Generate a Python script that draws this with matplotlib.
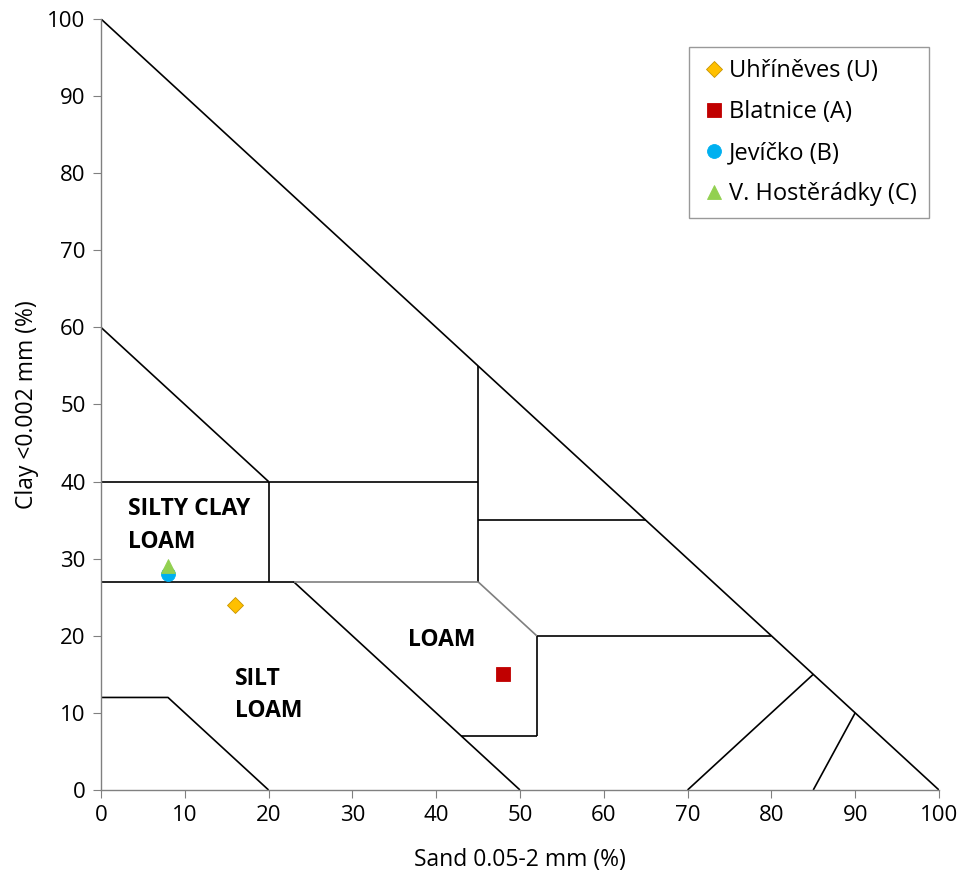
import matplotlib
matplotlib.use('Agg')
import matplotlib.pyplot as plt

# ── Data ──────────────────────────────────────────────────────────────────
site_names = ["Uhříněves (U)", "Blatnice (A)", "Jevíčko (B)", "V. Hostěrádky (C)"]
site_sand  = [16, 48, 8, 8]
site_clay  = [24, 15, 28, 29]
site_marker = ["D", "s", "o", "^"]
site_color  = ["#FFC000", "#C00000", "#00B0F0", "#92D050"]

# texture class boundaries: (sand list, clay list)
black_lines = [
    ([0, 100], [100, 0]),
    ([0, 20], [60, 40]),
    ([0, 45], [40, 40]),
    ([20, 20], [40, 27]),
    ([45, 45], [55, 40]),
    ([45, 45], [40, 27]),
    ([45, 65], [35, 35]),
    ([0, 23], [27, 27]),
    ([23, 50], [27, 0]),
    ([52, 80], [20, 20]),
    ([52, 52], [20, 7]),
    ([52, 43], [7, 7]),
    ([0, 8, 20], [12, 12, 0]),
    ([70, 85], [0, 15]),
    ([85, 90], [0, 10]),
]
gray_lines = [
    ([23, 45], [27, 27]),
    ([45, 52], [27, 20]),
]

class_labels = [("SILTY CLAY\nLOAM", 3.2, 34.3), ("LOAM", 36.6, 19.4), ("SILT\nLOAM", 16.0, 12.3)]

x_ticks = list(range(0, 101, 10))
y_ticks = list(range(0, 101, 10))

# ── Style ─────────────────────────────────────────────────────────────────
plt.rcParams.update({
    "font.family": ["Open Sans", "DejaVu Sans"],
    "font.size": 16,
})

fig = plt.figure(figsize=(9.68, 8.73), dpi=100)
ax = fig.add_axes([0.1043, 0.0951, 0.8657, 0.8832])

for xs, ys in black_lines:
    ax.plot(xs, ys, color="black", lw=1.2, solid_capstyle="butt", zorder=2)
for xs, ys in gray_lines:
    ax.plot(xs, ys, color="#7f7f7f", lw=1.2, solid_capstyle="butt", zorder=2)

for name, sx, cy, m, c in zip(site_names, site_sand, site_clay, site_marker, site_color):
    ms = 8 if m == "D" else 10
    ax.plot(sx, cy, ls="none", marker=m, ms=ms, color=c,
            mec="#c79400" if m == "D" else c, mew=0.6, label=name, zorder=4)

for txt, x, y in class_labels:
    ax.text(x, y, txt, fontsize=16.5, fontweight="bold", ha="left", va="center",
            linespacing=1.45, zorder=3)

ax.set_xlim(0, 100)
ax.set_ylim(0, 100)
ax.set_xticks(x_ticks)
ax.set_yticks(y_ticks)
for s in ["top", "right"]:
    ax.spines[s].set_visible(False)
for s in ["left", "bottom"]:
    ax.spines[s].set_color("#808080")
    ax.spines[s].set_linewidth(1.0)
ax.tick_params(direction="out", length=6, color="#808080", labelsize=16, pad=5)

ax.set_xlabel("Sand 0.05-2 mm (%)", fontsize=16.5, labelpad=16)
ax.set_ylabel("Clay <0.002 mm (%)", fontsize=16.5, labelpad=6)

leg = ax.legend(loc="upper right", bbox_to_anchor=(0.988, 0.963), frameon=True,
                fancybox=False, edgecolor="#808080", fontsize=17, handletextpad=0.1,
                handlelength=1.1, labelspacing=0.72, borderpad=0.5, borderaxespad=0)
leg.get_frame().set_linewidth(1.0)

fig.savefig("out.png", dpi=100, facecolor="white")
